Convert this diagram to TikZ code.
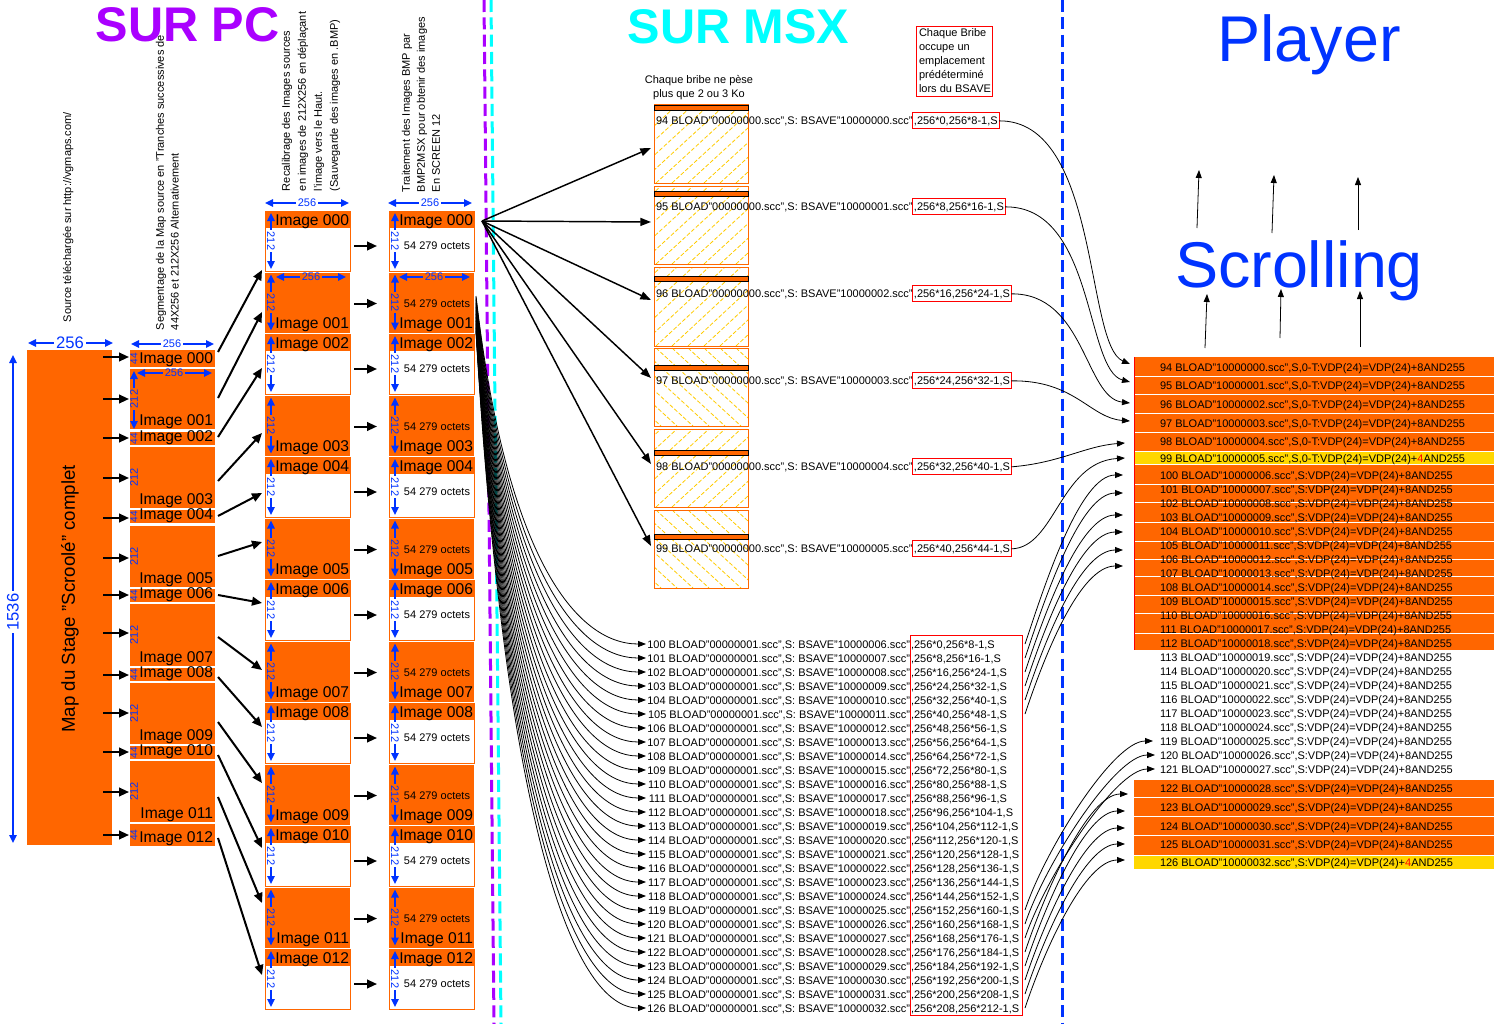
\documentclass[tikz,border=0pt]{standalone}
\usepackage{fontspec}
\setmainfont{Liberation Sans}
\usetikzlibrary{arrows.meta,calc}
\definecolor{orng}{RGB}{255,102,0}
\definecolor{goldy}{RGB}{255,215,0}
\definecolor{purp}{RGB}{170,0,255}
\definecolor{cyn}{RGB}{0,255,255}
\definecolor{dblue}{RGB}{0,51,255}
\definecolor{hatchy}{RGB}{255,204,0}
\newcommand\zpad[1]{\ifnum#1<10 0\fi#1}
\begin{document}
\begin{tikzpicture}[x=0.75pt,y=-0.75pt,
  every node/.style={inner sep=0pt,outer sep=0pt},
  sm/.style={font=\fontsize{8.25}{12}\selectfont},
  img/.style={font=\fontsize{11.7}{13}\selectfont},
  dimtxt/.style={font=\fontsize{8.25}{9}\selectfont,text=dblue},
  dimarr/.style={draw=dblue,line width=1.5pt,{Triangle[length=6pt,width=5.5pt]}-{Triangle[length=6pt,width=5.5pt]}},
  bigarr/.style={draw=black,line width=1.5pt,-{Triangle[length=7.5pt,width=6.5pt]}},
  midarr/.style={draw=black,line width=1.1pt,-{Triangle[length=8pt,width=6pt]}},
  thinarr/.style={draw=black,line width=0.6pt,-{Triangle[length=6pt,width=4.5pt]}},
  obox/.style={draw=orng,line width=0.75pt},
  hatchline/.style={draw=hatchy,line width=0.6pt,dash pattern=on 3pt off 1.5pt},
  dashl/.style={line width=2.25pt,dash pattern=on 9pt off 4pt},
]
\useasboundingbox (0,0) rectangle (1500,1024);
\fill[white] (0,0) rectangle (1500,1024);

% ---------------- titles
\node[font=\fontsize{36.5}{40}\selectfont\bfseries,text=purp,anchor=base] (tpc) at (187.5,42) {SUR PC};
\node[font=\fontsize{36.5}{40}\selectfont\bfseries,text=cyn,anchor=base] (tmsx) at (738.5,44) {SUR MSX};
\node[font=\fontsize{48.5}{52}\selectfont,text=dblue,anchor=base] (tpl) at (1309,62) {Player};
\node[font=\fontsize{48.5}{52}\selectfont,text=dblue,anchor=base] (tsc) at (1299,287) {Scrolling};

% ---------------- vertical texts
\node[sm,rotate=90,anchor=north west] (vt1) at (63,322) {Source téléchargée sur http://vgmaps.com/};
\node[sm,rotate=90,anchor=north west,align=left,font=\fontsize{8.25}{11}\selectfont] (vt2) at (156,330) {Segmentage de la Map source en "Tranches successives de\\44X256 et 212X256 Alternativement};
\node[sm,rotate=90,anchor=north west,align=left,font=\fontsize{8.25}{12}\selectfont] (vt3) at (282,191) {Recalibrage des Images sources\\en images de 212X256 en déplaçant\\l'image vers le Haut.\\(Sauvegarde des images en .BMP)};
\node[sm,rotate=90,anchor=north west,align=left,font=\fontsize{8.25}{11.25}\selectfont] (vt4) at (402,192) {Traitement des Images BMP par\\BMP2MSX pour obtenir des images\\En SCREEN 12};

% ---------------- dashed separators
\draw[dashl,draw=purp] (484,0) -- (494,1024);
\draw[dashl,draw=cyn] (491,0) -- (501,1024);
\draw[dashl,draw=dblue] (1062,0) -- (1062,1024);

% ---------------- column 1
\fill[orng] (27,350) rectangle (112,845);
\node[rotate=90,font=\fontsize{14}{16}\selectfont] (mapt) at (70,599) {Map du Stage "Scroolé" complet};
\draw[dimarr] (28,343) -- (113,343);
\node[fill=white,inner xsep=1.5pt,font=\fontsize{12.5}{14}\selectfont,text=dblue] (d256a) at (70,343) {256};
\draw[dimarr] (13,355) -- (13,843);
\node[fill=white,inner xsep=1.5pt,rotate=90,font=\fontsize{12.5}{14}\selectfont,text=dblue] (d1536) at (13,612) {1536};

% ---------------- column 2
\draw[dimarr] (131,344) -- (214,344);
\node[fill=white,dimtxt,inner xsep=1pt] (c2t) at (172,344) {256};
\foreach \n/\ta/\tb/\ay/\sy/\ey in {000/350/367/357/352/270,002/432/445/438/437/368,004/510/523/518/516/493,006/589/602/595/595/603,008/668/681/675/677/727,010/746/759/752/755/848,012/824/846/835/838/975}{
  \fill[orng] (130,\ta) rectangle (215,\tb);
  \node[img,anchor=base east] (c2\n) at (213,\tb-4) {Image \n};
  \node[dimtxt,rotate=90,font=\fontsize{7.5}{8}\selectfont] (c2d\n) at (134,{(\ta+\tb)/2}) {44};
  \coordinate (c1o\n) at (103,\ay);
  \coordinate (c2i\n) at (129,\ay);
  \draw[bigarr] (c1o\n) -- (c2i\n);
  \coordinate (c2o\n) at (218,\sy);
  \coordinate (c3i\n) at (262,\ey);
  \draw[bigarr] (c2o\n) -- (c3i\n);
}
\foreach \n/\ta/\tb/\ay/\sy/\ey in {001/369/429/399/398/312,003/447/508/478/481/433,005/526/587/558/556/542,007/604/666/633/637/670,009/683/744/713/722/783,011/761/822/792/797/903}{
  \fill[orng] (130,\ta) rectangle (215,\tb);
  \node[img,anchor=base east] (c2\n) at (213,\tb-4) {Image \n};
  \coordinate (c1o\n) at (103,\ay);
  \coordinate (c2i\n) at (129,\ay);
  \draw[bigarr] (c1o\n) -- (c2i\n);
  \coordinate (c2o\n) at (218,\sy);
  \coordinate (c3i\n) at (262,\ey);
  \draw[bigarr] (c2o\n) -- (c3i\n);
}
\foreach \n/\ta/\tb in {003/447/508,005/526/587,007/604/666,009/683/744,011/761/822}{
  \node[dimtxt,rotate=90] (c2d\n) at (134,{(\ta+\tb)/2}) {212};
}
\draw[dimarr] (137,373) -- (212,373);
\node[fill=orng,dimtxt,inner xsep=1pt] (c2h) at (174,373) {256};
\draw[dimarr] (134,371) -- (134,429);
\node[fill=orng,dimtxt,rotate=90,inner xsep=1pt] (c2v) at (134,399) {212};

% ---------------- columns 3 and 4
\draw[dimarr] (265,203) -- (349,203);
\node[dimtxt,fill=white,inner xsep=1pt] (c3t) at (307,203) {256};
\draw[dimarr] (388,203) -- (472,203);
\node[dimtxt,fill=white,inner xsep=1pt] (c4t) at (430,203) {256};
\foreach \k in {0,...,12}{
  \pgfmathsetmacro\ta{211+61.5*\k}
  \pgfmathsetmacro\tb{\ta+60}
  \pgfmathtruncatemacro\od{mod(\k,2)}
  \ifnum\od=0
    \foreach \xl/\cc in {265/3,389/4}{
      \fill[white] (\xl,\ta) rectangle (\xl+85,\tb);
      \fill[orng] (\xl,\ta) rectangle (\xl+85,\ta+17);
      \draw[obox] (\xl,\ta) rectangle (\xl+85,\tb);
      \draw[dimarr] (\xl+6,\ta+2) -- (\xl+6,\tb-2);
      \node[dimtxt,rotate=-90,fill=white,inner xsep=1pt] (c\cc v\k) at (\xl+6,\ta+30) {212};
      \node[img,anchor=base east] (c\cc l\k) at (\xl+84,\ta+14) {Image 0\zpad{\k}};
    }
    \node[sm] (oc\k) at (437,\ta+35) {54 279 octets};
    \coordinate (c3o\k) at (354,\ta+35);
    \coordinate (c4i\k) at (377,\ta+35);
  \else
    \foreach \xl/\cc in {265/3,389/4}{
      \fill[orng] (\xl,\ta) rectangle (\xl+85,\tb);
      \draw[dimarr] (\xl+6,\ta+2) -- (\xl+6,\tb-2);
      \node[dimtxt,rotate=-90,fill=orng,inner xsep=1pt] (c\cc v\k) at (\xl+6,\ta+30) {212};
      \node[img,anchor=base east] (c\cc l\k) at (\xl+84,\tb-4) {Image 0\zpad{\k}};
    }
    \node[sm] (oc\k) at (437,\ta+31) {54 279 octets};
    \coordinate (c3o\k) at (354,\ta+31);
    \coordinate (c4i\k) at (377,\ta+31);
  \fi
  \draw[bigarr] (c3o\k) -- (c4i\k);
}
\draw[dimarr] (276,277) -- (346,277);
\node[dimtxt,fill=orng,inner xsep=1pt] (c3h) at (311,277) {256};
\draw[dimarr] (399,277) -- (470,277);
\node[dimtxt,fill=orng,inner xsep=1pt] (c4h) at (434,277) {256};

% ---------------- MSX blocks
\node[sm,anchor=base] (cb1) at (699,84) {Chaque bribe ne pèse};
\node[sm,anchor=base] (cb2) at (699,98) {plus que 2 ou 3 Ko};
\draw[red,line width=0.75pt] (916,27) rectangle (992,97);
\node[anchor=north west,align=left,font=\fontsize{8.25}{10.5}\selectfont] (note) at (919,29) {Chaque Bribe\\occupe un\\emplacement\\prédéterminé\\lors du BSAVE};
\coordinate (fanA) at (482,221);
\foreach \n/\ta/\tb/\br/\ty/\dir/\ra/\rb/\ey in {94/105/183/105/124/1/0/8/148,95/186/264/191/210/1/8/16/222,96/267/346/276/297/1/16/24/300,97/348/426/365/384/-1/24/32/378,98/429/507/450/470/1/32/40/464,99/510/588/534/552/-1/40/44/546}{
  \begin{scope}
    \clip (654,\ta) rectangle (748,\tb);
    \foreach \xo in {560,576,...,760}{
      \ifnum\dir=1
        \draw[hatchline] (\xo,\tb) -- (\xo+85,\ta);
      \else
        \draw[hatchline] (\xo,\ta) -- (\xo+85,\tb);
      \fi
    }
  \end{scope}
  \draw[obox] (654,\ta) rectangle (748,\tb);
  \filldraw[fill=orng,draw=black,line width=0.6pt] (654,\br) rectangle (748,\br+5);
  \pgfmathtruncatemacro\ff{\n-94}
  \node[sm,anchor=base west] (mt\n) at (656,\ty) {\n\ BLOAD"00000000.scc",S: BSAVE"1000000\ff.scc"};
  \node[sm,anchor=base west,draw=red,line width=0.75pt,inner xsep=1pt,inner ysep=2.5pt] (mr\n) at (mt\n.base east) {,256*\ra,256*\rb-1,S};
  \coordinate (mb\n) at (651,\ey);
  \draw[midarr] (fanA) -- (mb\n);
}

% ---------------- list 100-126
\draw[red,line width=0.75pt] (910,635) rectangle (1022,1015);
\foreach \i in {0,...,26}{
  \pgfmathtruncatemacro\n{100+\i}
  \pgfmathtruncatemacro\ff{6+\i}
  \pgfmathtruncatemacro\sa{8*\i}
  \pgfmathtruncatemacro\sb{ifthenelse(\i==26,212,8*\i+8)}
  \pgfmathsetmacro\yy{644+14*\i}
  \pgfmathsetmacro\sy{296+1.4*\i}
  \pgfmathsetmacro\cy{\sy+0.75*(\yy-\sy)}
  \node[sm,anchor=base east] (la\n) at (910,\yy+4) {\n\ BLOAD"00000001.scc",S: BSAVE"100000\zpad{\ff}.scc"};
  \node[sm,anchor=base west] (lb\n) at (911,\yy+4) {,256*\sa,256*\sb-1,S};
  \coordinate (ls\n) at (476,\sy);
  \coordinate (le\n) at (646,\yy);
  \draw[thinarr] (ls\n) .. controls (506,\cy) and (576,\yy) .. (le\n);
}

% ---------------- Player list
\fill[orng] (1134,357) rectangle (1494,650);
\fill[goldy] (1134,452) rectangle (1494,464);
\foreach \yy in {376.5,394.5,413.5,432.5,451.5,464.5,484,502,522,541,559,576,595,613,633}{
  \draw[white,line width=0.75pt] (1134,\yy) -- (1494,\yy);
}
\draw[red,line width=0.75pt] (1134,357) -- (1134,650);
\fill[orng] (1134,780) rectangle (1494,855);
\fill[goldy] (1134,856) rectangle (1494,869);
\foreach \yy in {797.5,816.5,835.5}{
  \draw[white,line width=0.75pt] (1134,\yy) -- (1494,\yy);
}
\foreach \n/\yy in {94/367,95/385,96/404,97/423,98/441}{
  \pgfmathtruncatemacro\ff{\n-94}
  \node[sm,anchor=base west] (p\n) at (1160,\yy+4) {\n\ BLOAD"1000000\ff.scc",S,0-T:VDP(24)=VDP(24)+8AND255};
}
\node[sm,anchor=base west] (p99) at (1160,462) {99 BLOAD"10000005.scc",S,0-T:VDP(24)=VDP(24)+\textcolor{red}{4}AND255};
\foreach \i in {0,...,21}{
  \pgfmathtruncatemacro\n{100+\i}
  \pgfmathtruncatemacro\ff{6+\i}
  \pgfmathsetmacro\yy{475+14*\i}
  \node[sm,anchor=base west] (p\n) at (1160,\yy+4) {\n\ BLOAD"100000\zpad{\ff}.scc",S:VDP(24)=VDP(24)+8AND255};
}
\foreach \n/\yy in {122/788,123/807,124/826,125/844}{
  \pgfmathtruncatemacro\ff{\n-94}
  \node[sm,anchor=base west] (p\n) at (1160,\yy+4) {\n\ BLOAD"100000\ff.scc",S:VDP(24)=VDP(24)+8AND255};
}
\node[sm,anchor=base west] (p126) at (1160,866) {126 BLOAD"10000032.scc",S:VDP(24)=VDP(24)+\textcolor{red}{4}AND255};

% ---------------- MSX -> Player
\coordinate (pe94) at (1130,364);
\coordinate (pe95) at (1130,382);
\coordinate (pe96) at (1130,403);
\coordinate (pe97) at (1130,421);
\coordinate (pe98) at (1125,443);
\coordinate (pe99) at (1125,458);
\draw[thinarr] (mr94.east) .. controls (1100,120) and (1085,345) .. (pe94);
\draw[thinarr] (mr95.east) .. controls (1095,206) and (1085,370) .. (pe95);
\draw[thinarr] (mr96.east) .. controls (1085,293) and (1085,398) .. (pe96);
\draw[thinarr] (mr97.east) .. controls (1075,380) and (1090,418) .. (pe97);
\draw[thinarr] (mr98.east) .. controls (1060,463) and (1085,446) .. (pe98);
\draw[thinarr] (mr99.east) .. controls (1055,548) and (1060,462) .. (pe99);

% ---------------- list -> Player
\foreach \i/\ex/\ey in {0/1123/475,1/1123/493,2/1123/515,3/1123/532,4/1123/550,5/1123/566}{
  \pgfmathtruncatemacro\n{100+\i}
  \pgfmathsetmacro\sy{644+14*\i}
  \coordinate (rs\n) at (1025,\sy);
  \coordinate (re\n) at (\ex,\ey);
  \draw[thinarr] (rs\n) .. controls (1045,\sy-60) and (1080,\ey) .. (re\n);
}
\foreach \i/\ex/\ey in {19/1153/741,20/1155/755,21/1155/769,22/1128/794,23/1125/811,24/1125/828,25/1125/844,26/1125/860}{
  \pgfmathtruncatemacro\n{100+\i}
  \pgfmathsetmacro\sy{644+14*\i}
  \coordinate (rs\n) at (1025,\sy);
  \coordinate (re\n) at (\ex,\ey);
  \draw[thinarr] (rs\n) .. controls (1045,\sy-60) and (\ex-40,\ey) .. (re\n);
}

% ---------------- scrolling arrows
\foreach \k/\xa/\ya/\xb/\yb in {1/1205/348/1207/294,2/1280/338/1281/289,3/1360/347/1360/291,4/1197/228/1199/170,5/1272/233/1274/175,6/1358/230/1358/177}{
  \coordinate (sa\k) at (\xa,\ya);
  \coordinate (sb\k) at (\xb,\yb);
  \draw[thinarr] (sa\k) -- (sb\k);
}
\end{tikzpicture}
\end{document}
